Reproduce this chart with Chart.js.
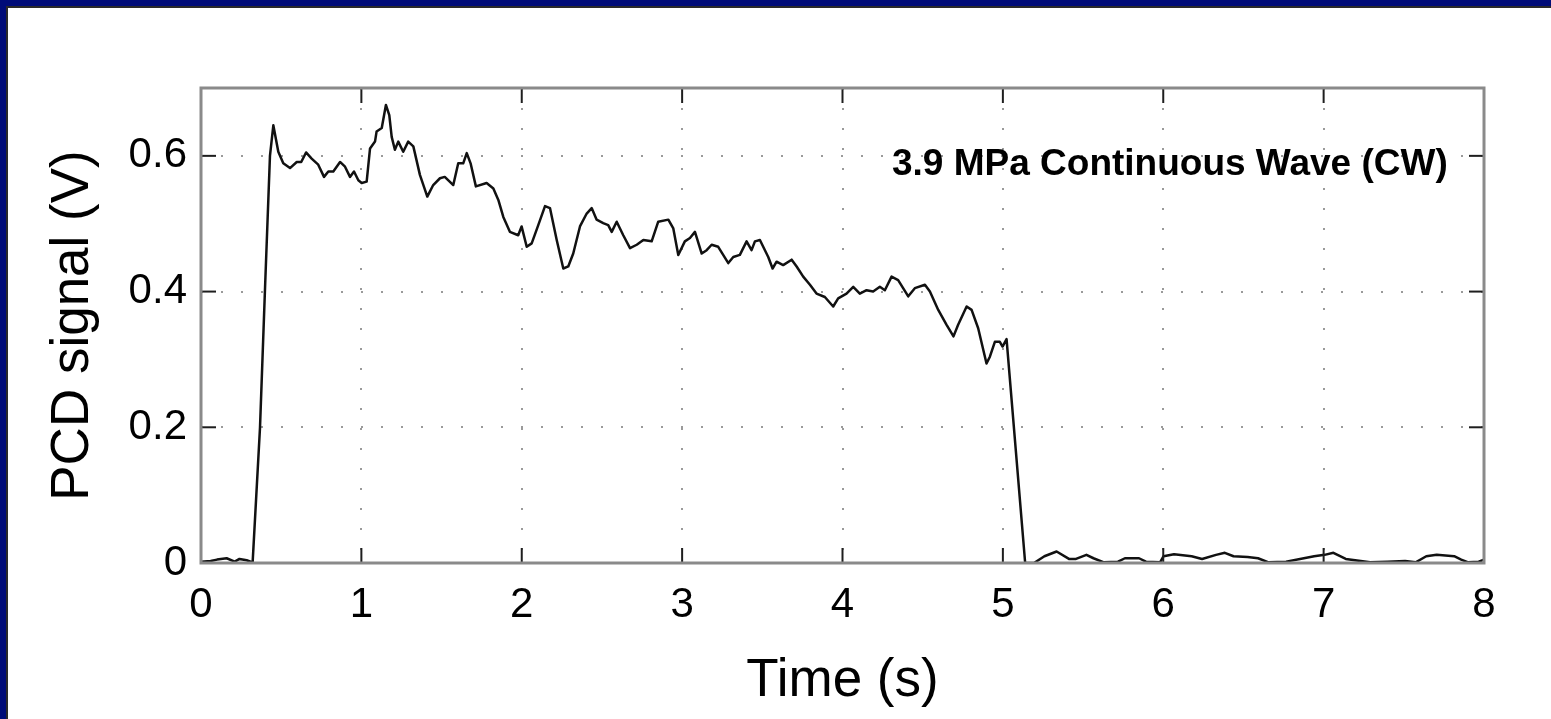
<!DOCTYPE html>
<html><head><meta charset="utf-8">
<script src="https://cdn.jsdelivr.net/npm/chart.js@4/dist/chart.umd.min.js"></script>
<style>
html,body{margin:0;padding:0;width:1551px;height:719px;overflow:hidden;background:#000c78;}
#paper{position:absolute;left:6px;top:6px;width:1545px;height:720px;background:#fff;border-top:2px solid #2a2a2a;border-left:2px solid #2a2a2a;box-sizing:border-box;}
#wrap{position:absolute;left:0;top:0;width:1551px;height:719px;}
canvas{display:block;}
</style></head><body>
<div id="paper"></div>
<div id="wrap"><canvas id="c" width="1551" height="719"></canvas></div>
<script>
// ---- data ----
const timeS = [0.00,0.06,0.10,0.16,0.21,0.24,0.285,0.322,0.368,0.40,0.43,0.451,0.482,0.513,0.555,0.597,0.625,0.655,0.69,0.731,0.767,0.794,0.825,0.867,0.898,0.929,0.954,0.981,1.002,1.033,1.054,1.085,1.095,1.127,1.153,1.174,1.189,1.209,1.230,1.261,1.292,1.324,1.365,1.411,1.448,1.49,1.52,1.573,1.604,1.635,1.657,1.681,1.714,1.781,1.823,1.854,1.885,1.926,1.978,1.999,2.031,2.062,2.103,2.145,2.176,2.218,2.259,2.290,2.321,2.363,2.405,2.436,2.467,2.508,2.539,2.561,2.592,2.633,2.675,2.717,2.758,2.810,2.851,2.914,2.945,2.976,3.017,3.049,3.080,3.122,3.153,3.184,3.225,3.288,3.319,3.360,3.402,3.433,3.454,3.485,3.537,3.564,3.589,3.630,3.683,3.714,3.755,3.797,3.838,3.890,3.942,3.973,4.025,4.067,4.108,4.150,4.191,4.233,4.264,4.306,4.347,4.410,4.451,4.514,4.545,4.597,4.649,4.692,4.721,4.774,4.805,4.846,4.898,4.919,4.950,4.981,4.998,5.023,5.139,5.194,5.259,5.335,5.412,5.456,5.521,5.565,5.630,5.718,5.761,5.849,5.892,5.980,6.002,6.067,6.177,6.242,6.329,6.384,6.438,6.526,6.591,6.657,6.766,6.853,6.941,7.006,7.061,7.138,7.290,7.399,7.508,7.574,7.640,7.705,7.814,7.858,7.902,7.967,8.000];
const pcdV = [0.002,0.003,0.005,0.007,0.002,0.006,0.004,0.001,0.20,0.41,0.60,0.645,0.606,0.589,0.582,0.591,0.591,0.605,0.596,0.587,0.569,0.577,0.577,0.591,0.584,0.569,0.577,0.564,0.560,0.562,0.611,0.621,0.636,0.641,0.675,0.660,0.628,0.609,0.621,0.606,0.621,0.614,0.572,0.540,0.557,0.567,0.569,0.557,0.589,0.589,0.604,0.589,0.555,0.560,0.552,0.535,0.510,0.488,0.483,0.496,0.466,0.471,0.498,0.526,0.523,0.476,0.434,0.437,0.456,0.496,0.515,0.523,0.506,0.501,0.498,0.488,0.503,0.483,0.464,0.469,0.476,0.474,0.503,0.506,0.493,0.454,0.474,0.479,0.488,0.456,0.461,0.469,0.466,0.442,0.451,0.454,0.474,0.461,0.474,0.476,0.451,0.434,0.444,0.439,0.447,0.437,0.422,0.410,0.397,0.392,0.378,0.390,0.397,0.407,0.397,0.402,0.400,0.407,0.402,0.422,0.417,0.393,0.405,0.410,0.400,0.373,0.351,0.334,0.351,0.378,0.373,0.346,0.294,0.304,0.326,0.326,0.319,0.330,0.000,0.000,0.010,0.017,0.006,0.006,0.012,0.007,0.001,0.002,0.007,0.007,0.002,0.001,0.010,0.013,0.010,0.006,0.012,0.015,0.010,0.009,0.007,0.001,0.002,0.006,0.010,0.012,0.015,0.006,0.001,0.002,0.003,0.001,0.010,0.012,0.010,0.005,0.001,0.002,0.005];
const xTickValues = [0,1,2,3,4,5,6,7,8];
const yTickValues = [0,0.2,0.4,0.6];
const xTitle = 'Time (s)';
const yTitle = 'PCD signal (V)';
const annotation = '3.9 MPa Continuous Wave (CW)';

const FONT = '"Liberation Sans", Arial, Helvetica, sans-serif';
Chart.defaults.font.family = FONT;
Chart.defaults.color = '#000';

const points = timeS.map((t, i) => ({x: t, y: pcdV[i]}));

const framePlugin = {
  id: 'frame',
  afterDatasetsDraw(chart) {
    const {ctx, chartArea: a, scales: {x, y}} = chart;
    const L = 15;
    ctx.save();
    ctx.strokeStyle = '#1e1e1e';
    ctx.lineWidth = 2;
    const seg = (x1, y1, x2, y2) => { ctx.beginPath(); ctx.moveTo(x1, y1); ctx.lineTo(x2, y2); ctx.stroke(); };
    xTickValues.forEach(v => {
      const px = x.getPixelForValue(v);
      seg(px, a.bottom, px, a.bottom - L);
      seg(px, a.top, px, a.top + L);
    });
    yTickValues.forEach(v => {
      const py = y.getPixelForValue(v);
      seg(a.left, py, a.left + L, py);
      seg(a.right, py, a.right - L, py);
    });
    ctx.strokeStyle = '#8a8a8a';
    ctx.lineWidth = 3;
    ctx.strokeRect(a.left, a.top, a.right - a.left, a.bottom - a.top);
    ctx.restore();
  },
  afterDraw(chart) {
    const {ctx, chartArea: a} = chart;
    ctx.save();
    ctx.font = 'bold 37px ' + FONT;
    ctx.fillStyle = '#000';
    ctx.textBaseline = 'alphabetic';
    ctx.textAlign = 'left';
    ctx.fillText(annotation, a.left + 691, a.top + 87);
    ctx.restore();
  }
};

new Chart(document.getElementById('c'), {
  type: 'scatter',
  data: {
    datasets: [{
      data: points,
      showLine: true,
      borderColor: '#111',
      borderWidth: 2.5,
      borderJoinStyle: 'round',
      pointRadius: 0,
      tension: 0,
      fill: false
    }]
  },
  options: {
    responsive: false,
    animation: false,
    devicePixelRatio: 1,
    layout: {padding: {left: 0, right: 67, top: 88, bottom: 0}},
    plugins: {legend: {display: false}, tooltip: {enabled: false}},
    scales: {
      x: {
        type: 'linear', min: 0, max: 8,
        afterBuildTicks: s => { s.ticks = xTickValues.map(v => ({value: v})); },
        afterFit: s => { s.height = 156; },
        ticks: {font: {size: 42}, color: '#000', padding: 17, maxRotation: 0, callback: v => String(v)},
        grid: {color: '#9a9a9a', lineWidth: 2, drawTicks: false},
        border: {display: false, dash: [2, 18]},
        title: {display: true, text: xTitle, font: {size: 53}, color: '#000', padding: {top: 0, bottom: 6}}
      },
      y: {
        type: 'linear', min: 0, max: 0.7,
        afterBuildTicks: s => { s.ticks = yTickValues.map(v => ({value: v})); },
        afterFit: s => { s.width = 201; },
        ticks: {font: {size: 42}, color: '#000', padding: 14, callback: v => (v === 0 ? '0' : v.toFixed(1))},
        grid: {color: '#9a9a9a', lineWidth: 2, drawTicks: false},
        border: {display: false, dash: [2, 18]},
        title: {display: true, text: yTitle, font: {size: 53}, color: '#000', padding: {top: 42, bottom: 0}}
      }
    }
  },
  plugins: [framePlugin]
});
</script>
</body></html>
